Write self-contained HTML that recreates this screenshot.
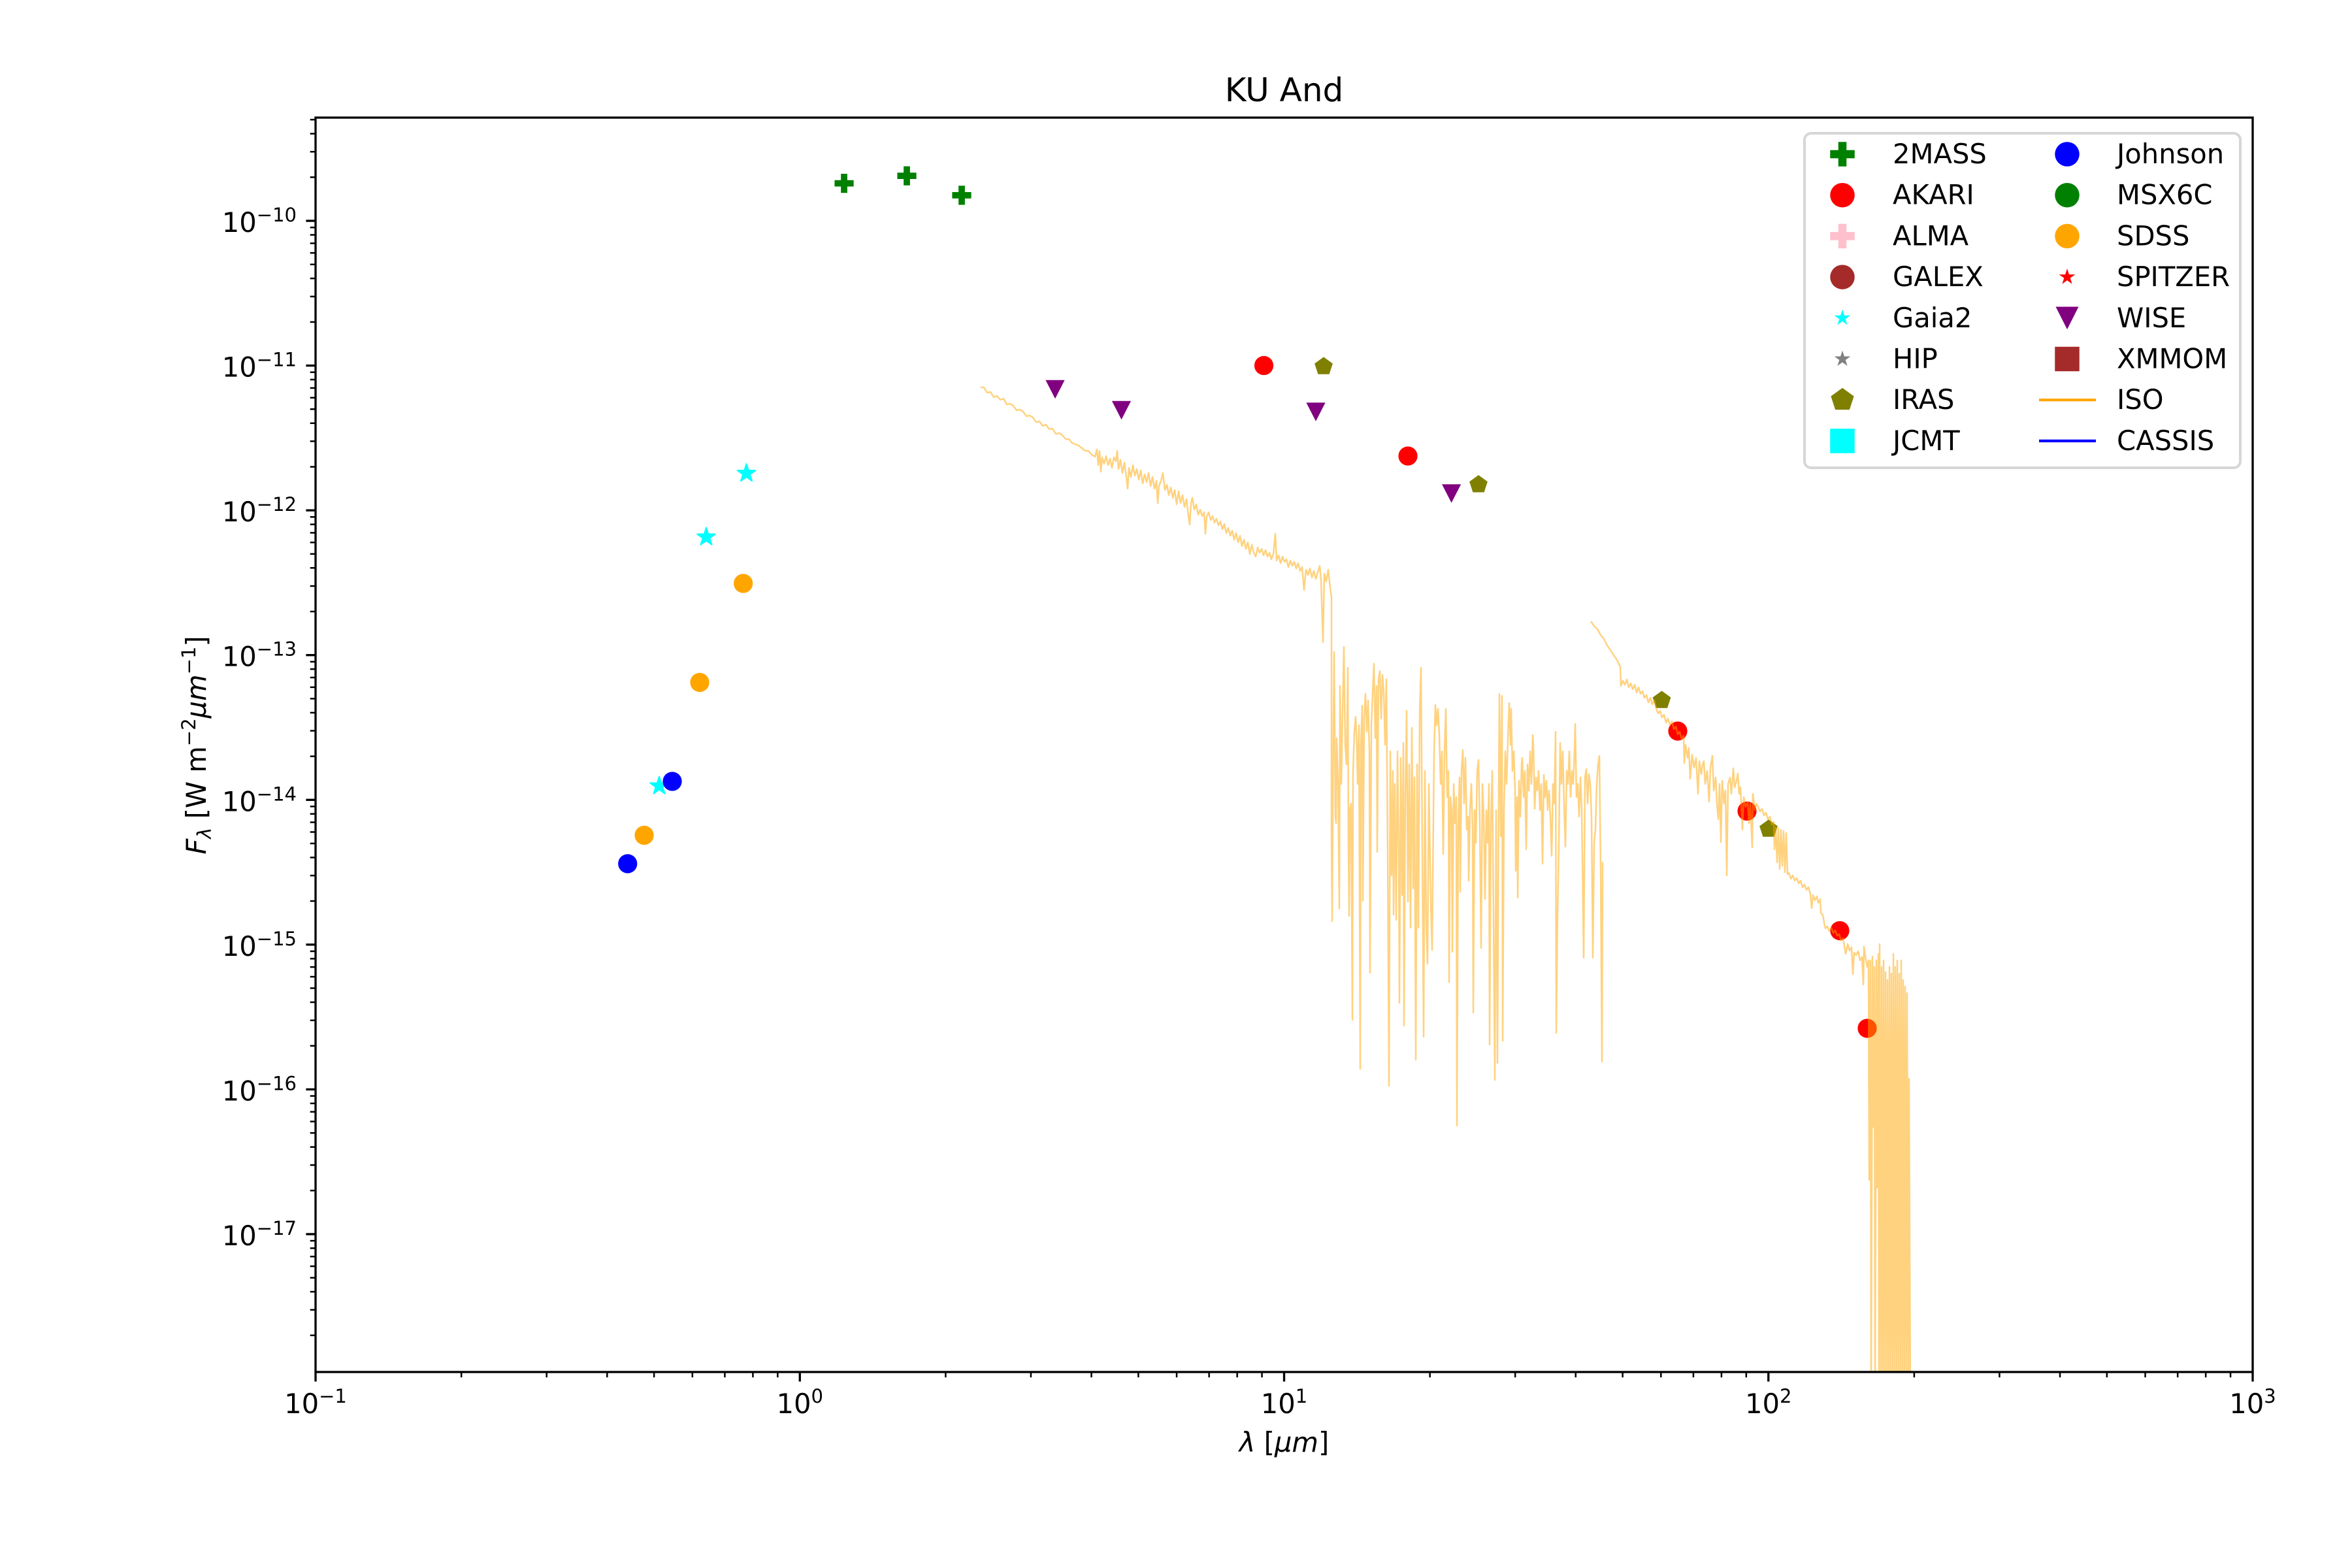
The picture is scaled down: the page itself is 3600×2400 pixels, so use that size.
<!DOCTYPE html>
<html>
<head>
<meta charset="utf-8">
<style>
html,body{margin:0;padding:0;background:#fff;}
svg{display:block;}
text{font-family:"DejaVu Sans","Liberation Sans",sans-serif;fill:#000;white-space:pre;}
</style>
</head>
<body>
<svg width="3600" height="2400" viewBox="0 0 3600 2400" xmlns="http://www.w3.org/2000/svg">
<defs>
  <clipPath id="ax"><rect x="483" y="180" width="2965" height="1920"/></clipPath>
  <polygon id="plusP" points="-4.87,-14.6 4.87,-14.6 4.87,-4.87 14.6,-4.87 14.6,4.87 4.87,4.87 4.87,14.6 -4.87,14.6 -4.87,4.87 -14.6,4.87 -14.6,-4.87 -4.87,-4.87"/>
  <circle id="circP" cx="0" cy="0" r="14.6"/>
  <polygon id="triP" points="0,14.2 -14.6,-14.2 14.6,-14.2"/>
  <polygon id="pentP" points="0,-14.6 13.89,-4.51 8.58,11.81 -8.58,11.81 -13.89,-4.51"/>
  <polygon id="starP" points="0,-14.5 3.26,-4.48 13.79,-4.48 5.27,1.71 8.52,11.73 0,5.54 -8.52,11.73 -5.27,1.71 -13.79,-4.48 -3.26,-4.48"/>
  <polygon id="plusL" points="-6.25,-18.75 6.25,-18.75 6.25,-6.25 18.75,-6.25 18.75,6.25 6.25,6.25 6.25,18.75 -6.25,18.75 -6.25,6.25 -18.75,6.25 -18.75,-6.25 -6.25,-6.25"/>
  <circle id="circL" cx="0" cy="0" r="18.75"/>
  <polygon id="triL" points="0,17.3 -17.5,-17.3 17.5,-17.3"/>
  <polygon id="pentL" points="0,-18.5 17.59,-5.72 10.87,14.97 -10.87,14.97 -17.59,-5.72"/>
  <polygon id="starL" points="0,-13 2.92,-4.02 12.36,-4.02 4.73,1.54 7.64,10.52 0,4.97 -7.64,10.52 -4.73,1.54 -12.36,-4.02 -2.92,-4.02"/>
  <rect id="sqL" x="-18.75" y="-18.75" width="37.5" height="37.5"/>
</defs>

<rect x="0" y="0" width="3600" height="2400" fill="#fff"/>

<!-- Title -->
<text x="1965.5" y="155" font-size="50" text-anchor="middle">KU And</text>

<!-- Data markers -->
<g clip-path="url(#ax)">
  <!-- 2MASS -->
  <g fill="#008000">
    <use href="#plusP" x="1292" y="280.6"/>
    <use href="#plusP" x="1388" y="269.1"/>
    <use href="#plusP" x="1472" y="298.9"/>
  </g>
  <!-- AKARI -->
  <g fill="#ff0000">
    <use href="#circP" x="1934.5" y="559.5"/>
    <use href="#circP" x="2155" y="698"/>
    <use href="#circP" x="2568" y="1119"/>
    <use href="#circP" x="2674" y="1241.5"/>
    <use href="#circP" x="2816" y="1424.5"/>
    <use href="#circP" x="2858" y="1574"/>
  </g>
  <!-- Gaia2 -->
  <g fill="#00ffff" stroke="#00ffff" stroke-width="2" stroke-linejoin="round">
    <use href="#starP" x="1009" y="1203"/>
    <use href="#starP" x="1081" y="822"/>
    <use href="#starP" x="1142.5" y="724.5"/>
  </g>
  <!-- IRAS -->
  <g fill="#808000">
    <use href="#pentP" x="2026" y="561"/>
    <use href="#pentP" x="2263" y="741.7"/>
    <use href="#pentP" x="2543.5" y="1072"/>
    <use href="#pentP" x="2707" y="1269"/>
  </g>
  <!-- Johnson -->
  <g fill="#0000ff">
    <use href="#circP" x="960.7" y="1322"/>
    <use href="#circP" x="1029" y="1196"/>
  </g>
  <!-- SDSS -->
  <g fill="#ffa500">
    <use href="#circP" x="986" y="1278.5"/>
    <use href="#circP" x="1071" y="1044.5"/>
    <use href="#circP" x="1137.6" y="893"/>
  </g>
  <!-- WISE -->
  <g fill="#800080">
    <use href="#triP" x="1615" y="596"/>
    <use href="#triP" x="1716.5" y="628"/>
    <use href="#triP" x="2014" y="630.5"/>
    <use href="#triP" x="2221.6" y="755.4"/>
  </g>

  <!-- ISO spectrum -->
  <g fill="none" stroke="#ffa500" stroke-opacity="0.5" stroke-width="2.5" stroke-linejoin="round">
    <polyline points="1501,593 1506,593 1511,601 1516,600 1521,608 1526,606 1531,612 1536,610 1541,619 1546,618 1551,621 1556,628 1561,627 1566,630 1571,637 1576,636 1581,639 1586,646 1591,645 1596,652 1601,650 1606,657 1611,656 1616,664 1621,663 1626,666 1631,672 1636,672 1641,678 1646,680 1651,682 1656,686 1661,690 1666,690 1671,696 1676,699 1679,688 1681,712 1683,690 1685,722 1687,700 1690,710 1693,698 1696,712 1699,702 1702,716 1705,700 1708,706 1710,690 1712,718 1715,704 1718,724 1721,708 1724,730 1726,748 1728,716 1731,730 1734,712 1737,728 1740,718 1743,734 1746,720 1749,740 1752,726 1755,738 1758,724 1761,744 1764,730 1767,748 1770,736 1772,770 1774,744 1777,736 1780,724 1783,750 1786,742 1789,758 1792,746 1795,762 1798,750 1801,772 1804,752 1807,770 1810,758 1813,776 1816,764 1819,790 1821,803 1823,770 1825,762 1828,780 1831,772 1834,788 1837,780 1840,790 1843,784 1845,817 1847,790 1850,784 1853,796 1856,790 1859,800 1862,794 1865,804 1868,798 1871,810 1874,802 1877,816 1880,808 1883,820 1886,812 1889,826 1892,816 1895,830 1898,820 1901,836 1904,826 1907,840 1910,830 1913,848 1916,834 1919,846 1922,852 1925,838 1928,846 1931,840 1934,850 1937,842 1940,852 1943,846 1946,856 1949,848 1952,817 1954,858 1957,850 1960,862 1963,852 1966,860 1969,856 1972,868 1975,858 1978,866 1981,860 1984,870 1987,862 1990,874 1993,868 1996,903 1999,872 2002,880 2005,870 2008,884 2011,874 2014,886 2017,876 2020,866 2022,888 2025,983 2027,878 2030,890 2033,872 2036,900 2038,915
2038,1270 2039,1410 2041,1100 2042,998 2044,1250 2045,1260 2046,1130 2048,1200 2050,1391 2051,1050 2053,1200 2055,1090 2057,990 2059,1140 2061,1170 2063,1022 2064,1300 2065,1402 2066,1240 2068,1230 2070,1561 2071,1180 2073,1120 2075,1097 2077,1150 2078,1200 2080,1110 2082,1636 2083,1140 2085,1080 2086,1379 2088,1100 2090,1062 2092,1120 2094,1072 2096,1150 2097,1489 2099,1110 2101,1060 2103,1016 2105,1130 2107,1050 2108,1304 2110,1040 2112,1027 2114,1100 2116,1033 2118,1060 2120,1140 2122,1040 2124,1300 2126,1662 2128,1150 2130,1340 2132,1180 2133,1400 2135,1200 2137,1408 2139,1150 2141,1310 2142,1535 2144,1160 2146,1370 2148,1137 2149,1570 2151,1220 2153,1088 2155,1380 2157,1170 2159,1420 2161,1114 2163,1360 2165,1190 2167,1622 2169,1170 2171,1420 2173,1088 2175,1022 2177,1300 2179,1587 2181,1180 2183,1420 2185,1475 2187,1200 2190,1380 2192,1454 2195,1150 2197,1079 2199,1110 2201,1085 2203,1125 2205,1200 2207,1150 2209,1307 2211,1150 2213,1085 2215,1220 2217,1180 2218,1503 2220,1220 2222,1240 2223,1457 2225,1200 2227,1260 2229,1220 2230,1723 2232,1260 2234,1190 2235,1365 2237,1180 2239,1148 2241,1230 2243,1160 2245,1270 2247,1250 2248,1348 2250,1240 2252,1200 2254,1270 2255,1550 2257,1240 2259,1290 2261,1180 2263,1163 2265,1260 2267,1451 2269,1200 2271,1250 2273,1376 2275,1240 2277,1290 2279,1200 2280,1599 2282,1260 2284,1180 2286,1400 2288,1653 2290,1240 2292,1627 2294,1200 2295,1062 2297,1280 2299,1065 2300,1593 2302,1240 2304,1150 2306,1200 2308,1130 2310,1076 2312,1140 2313,1085 2315,1180 2317,1150 2319,1210 2320,1333 2322,1220 2323,1374 2325,1195 2327,1250 2329,1170 2330,1160 2332,1220 2334,1180 2336,1300 2338,1170 2340,1210 2342,1150 2344,1200 2346,1125 2347,1140 2349,1238 2351,1190 2353,1210 2355,1180 2357,1240 2359,1200 2361,1322 2363,1186 2365,1220 2367,1195 2369,1240 2371,1210 2373,1250 2375,1310 2377,1200 2379,1230 2381,1120 2382,1581 2384,1400 2386,1290 2388,1137 2390,1200 2392,1150 2394,1230 2396,1296 2398,1180 2400,1200 2402,1150 2404,1220 2406,1180 2408,1200 2410,1150 2411,1108 2413,1220 2415,1200 2417,1250 2419,1190 2421,1240 2424,1466 2426,1190 2428,1177 2430,1230 2432,1185 2434,1200 2436,1250 2438,1466 2440,1290 2442,1270 2444,1200 2446,1170 2448,1157 2450,1330 2452,1625 2453,1319"/>
    <polyline points="2435,951 2440,958 2445,963 2450,972 2455,978 2460,988 2465,995 2470,1003 2475,1010 2480,1021 2481,1050 2484,1042 2487,1048 2490,1040 2493,1052 2496,1046 2499,1055 2502,1048 2505,1060 2508,1052 2511,1062 2514,1058 2517,1068 2520,1064 2523,1075 2526,1068 2529,1078 2532,1072 2535,1085 2538,1092 2541,1088 2544,1098 2547,1094 2550,1106 2553,1100 2556,1110 2559,1104 2562,1116 2565,1112 2568,1124 2571,1120 2574,1132 2577,1126 2578,1168 2580,1140 2583,1160 2585,1145 2587,1192 2590,1155 2593,1175 2596,1160 2599,1215 2601,1165 2604,1185 2606,1170 2608,1165 2610,1200 2613,1180 2616,1227 2618,1175 2621,1157 2623,1210 2626,1190 2628,1230 2630,1254 2632,1200 2634,1289 2636,1195 2639,1230 2641,1210 2643,1340 2645,1200 2648,1190 2650,1215 2653,1176 2655,1205 2658,1195 2660,1184 2662,1215 2664,1205 2667,1270 2669,1220 2672,1235 2675,1228 2677,1260 2679,1230 2682,1297 2683,1215 2686,1240 2688,1230 2691,1235 2694,1242 2697,1238 2700,1248 2703,1244 2706,1254 2709,1250 2712,1262 2715,1258 2716,1300 2718,1266 2720,1320 2722,1268 2724,1330 2726,1270 2728,1325 2730,1272 2732,1335 2734,1275 2736,1338 2738,1336 2741,1345 2744,1340 2747,1348 2750,1344 2753,1352 2756,1348 2759,1358 2762,1354 2765,1362 2768,1358 2771,1368 2773,1390 2775,1370 2778,1378 2781,1372 2783,1382 2786,1376 2787,1398 2790,1400 2792,1412 2794,1421 2797,1418 2800,1425 2803,1420 2806,1428 2809,1424 2812,1432 2815,1430 2818,1440 2821,1436 2823,1448 2825,1460 2828,1445 2831,1455 2834,1450 2836,1491 2838,1458 2841,1462 2844,1456 2847,1470 2850,1465 2852,1507 2853,1449 2856,1470 2858,1480 2860,1470 2861,1806 2863,1470 2864,2140 2866,1464 2867,1725 2869,1480 2870,2140 2872,1470 2873,1818 2875,1460 2876,2140 2877,1445 2879,2140 2880,1480 2882,2140 2883,1470 2885,2140 2886,1488 2888,2140 2889,1500 2891,2140 2892,1480 2894,2140 2895,1490 2897,2140 2898,1460 2900,2140 2901,1480 2903,2140 2904,1470 2906,2140 2907,1490 2909,2140 2910,1470 2912,2140 2913,1500 2915,2140 2916,1510 2918,2140 2919,1520 2921,2140 2922,1651 2924,2140"/>
  </g>
</g>

<!-- Axes spines -->
<rect x="483" y="180" width="2965" height="1920" fill="none" stroke="#000" stroke-width="3.33" stroke-linejoin="miter"/>

<!-- Y major ticks -->
<g stroke="#000" stroke-width="3.33">
  <line x1="468.4" y1="338" x2="483" y2="338"/>
  <line x1="468.4" y1="559.57" x2="483" y2="559.57"/>
  <line x1="468.4" y1="781.14" x2="483" y2="781.14"/>
  <line x1="468.4" y1="1002.71" x2="483" y2="1002.71"/>
  <line x1="468.4" y1="1224.28" x2="483" y2="1224.28"/>
  <line x1="468.4" y1="1445.85" x2="483" y2="1445.85"/>
  <line x1="468.4" y1="1667.42" x2="483" y2="1667.42"/>
  <line x1="468.4" y1="1888.99" x2="483" y2="1888.99"/>
</g>
<!-- Y minor ticks -->
<g stroke="#000" stroke-width="2.5">
  <path d="M474.7 271.3H483 M474.7 232.28H483 M474.7 204.6H483 M474.7 183.13H483
  M474.7 492.87H483 M474.7 453.85H483 M474.7 426.17H483 M474.7 404.7H483 M474.7 387.16H483 M474.7 372.32H483 M474.7 359.47H483 M474.7 348.14H483
  M474.7 714.44H483 M474.7 675.42H483 M474.7 647.74H483 M474.7 626.27H483 M474.7 608.73H483 M474.7 593.89H483 M474.7 581.04H483 M474.7 569.71H483
  M474.7 936.01H483 M474.7 896.99H483 M474.7 869.31H483 M474.7 847.84H483 M474.7 830.3H483 M474.7 815.46H483 M474.7 802.61H483 M474.7 791.28H483
  M474.7 1157.58H483 M474.7 1118.56H483 M474.7 1090.88H483 M474.7 1069.41H483 M474.7 1051.87H483 M474.7 1037.03H483 M474.7 1024.18H483 M474.7 1012.85H483
  M474.7 1379.15H483 M474.7 1340.13H483 M474.7 1312.45H483 M474.7 1290.98H483 M474.7 1273.44H483 M474.7 1258.6H483 M474.7 1245.75H483 M474.7 1234.42H483
  M474.7 1600.72H483 M474.7 1561.7H483 M474.7 1534.02H483 M474.7 1512.55H483 M474.7 1495.01H483 M474.7 1480.17H483 M474.7 1467.32H483 M474.7 1455.99H483
  M474.7 1822.29H483 M474.7 1783.27H483 M474.7 1755.59H483 M474.7 1734.12H483 M474.7 1716.58H483 M474.7 1701.74H483 M474.7 1688.89H483 M474.7 1677.56H483
  M474.7 2043.86H483 M474.7 2004.84H483 M474.7 1977.16H483 M474.7 1955.69H483 M474.7 1938.15H483 M474.7 1923.31H483 M474.7 1910.46H483 M474.7 1899.13H483"/>
</g>

<!-- X major ticks -->
<g stroke="#000" stroke-width="3.33">
  <line x1="483" y1="2100" x2="483" y2="2114.6"/>
  <line x1="1224.25" y1="2100" x2="1224.25" y2="2114.6"/>
  <line x1="1965.5" y1="2100" x2="1965.5" y2="2114.6"/>
  <line x1="2706.75" y1="2100" x2="2706.75" y2="2114.6"/>
  <line x1="3448" y1="2100" x2="3448" y2="2114.6"/>
</g>
<!-- X minor ticks -->
<g stroke="#000" stroke-width="2.5">
  <path d="M706.14 2100V2108.3 M836.67 2100V2108.3 M929.27 2100V2108.3 M1001.11 2100V2108.3 M1059.79 2100V2108.3 M1109.41 2100V2108.3 M1152.4 2100V2108.3 M1190.3 2100V2108.3
  M1447.39 2100V2108.3 M1577.92 2100V2108.3 M1670.52 2100V2108.3 M1742.36 2100V2108.3 M1801.04 2100V2108.3 M1850.66 2100V2108.3 M1893.65 2100V2108.3 M1931.55 2100V2108.3
  M2188.64 2100V2108.3 M2319.17 2100V2108.3 M2411.77 2100V2108.3 M2483.61 2100V2108.3 M2542.29 2100V2108.3 M2591.91 2100V2108.3 M2634.9 2100V2108.3 M2672.8 2100V2108.3
  M2929.89 2100V2108.3 M3060.42 2100V2108.3 M3153.02 2100V2108.3 M3224.86 2100V2108.3 M3283.54 2100V2108.3 M3333.16 2100V2108.3 M3376.15 2100V2108.3 M3414.05 2100V2108.3"/>
</g>

<!-- Y tick labels -->
<g font-size="41.67" text-anchor="end">
  <text x="454" y="355">10<tspan font-size="29" dy="-16">−10</tspan></text>
  <text x="454" y="576.6">10<tspan font-size="29" dy="-16">−11</tspan></text>
  <text x="454" y="798.1">10<tspan font-size="29" dy="-16">−12</tspan></text>
  <text x="454" y="1019.7">10<tspan font-size="29" dy="-16">−13</tspan></text>
  <text x="454" y="1241.3">10<tspan font-size="29" dy="-16">−14</tspan></text>
  <text x="454" y="1462.9">10<tspan font-size="29" dy="-16">−15</tspan></text>
  <text x="454" y="1684.4">10<tspan font-size="29" dy="-16">−16</tspan></text>
  <text x="454" y="1906">10<tspan font-size="29" dy="-16">−17</tspan></text>
</g>

<!-- X tick labels -->
<g font-size="41.67" text-anchor="middle">
  <text x="483" y="2163">10<tspan font-size="29" dy="-16">−1</tspan></text>
  <text x="1224.25" y="2163">10<tspan font-size="29" dy="-16">0</tspan></text>
  <text x="1965.5" y="2163">10<tspan font-size="29" dy="-16">1</tspan></text>
  <text x="2706.75" y="2163">10<tspan font-size="29" dy="-16">2</tspan></text>
  <text x="3448" y="2163">10<tspan font-size="29" dy="-16">3</tspan></text>
</g>

<!-- Axis labels -->
<text x="1965.5" y="2222" font-size="41.67" text-anchor="middle"><tspan font-style="italic">λ</tspan> [<tspan font-style="italic">μm</tspan>]</text>
<text transform="translate(315,1140.5) rotate(-90)" font-size="41.67" text-anchor="middle"><tspan font-style="italic">F</tspan><tspan font-size="29" font-style="italic" dy="8">λ</tspan><tspan dy="-8"> [W m</tspan><tspan font-size="29" dy="-16">−2</tspan><tspan font-style="italic" dy="16">μm</tspan><tspan font-size="29" dy="-16">−1</tspan><tspan dy="16">]</tspan></text>

<!-- Legend -->
<rect x="2762" y="204" width="667" height="512" rx="10" ry="10" fill="#fff" fill-opacity="0.8" stroke="#d6d6d6" stroke-width="4"/>
<g>
  <use href="#plusL" x="2820" y="236" fill="#008000"/>
  <use href="#circL" x="2820" y="298.7" fill="#ff0000"/>
  <use href="#plusL" x="2820" y="361.4" fill="#ffc0cb"/>
  <use href="#circL" x="2820" y="424.1" fill="#a52a2a"/>
  <use href="#starL" x="2820" y="486.8" fill="#00ffff"/>
  <use href="#starL" x="2820" y="549.5" fill="#808080"/>
  <use href="#pentL" x="2820" y="612.2" fill="#808000"/>
  <use href="#sqL" x="2820" y="674.9" fill="#00ffff"/>

  <use href="#circL" x="3164" y="236" fill="#0000ff"/>
  <use href="#circL" x="3164" y="298.7" fill="#008000"/>
  <use href="#circL" x="3164" y="361.4" fill="#ffa500"/>
  <use href="#starL" x="3164" y="424.1" fill="#ff0000"/>
  <use href="#triL" x="3164" y="486.8" fill="#800080"/>
  <use href="#sqL" x="3164" y="549.5" fill="#a52a2a"/>
  <line x1="3121" y1="612.2" x2="3208" y2="612.2" stroke="#ffa500" stroke-width="4.2"/>
  <line x1="3121" y1="674.9" x2="3208" y2="674.9" stroke="#0000ff" stroke-width="4.2"/>
</g>
<g font-size="41.67">
  <text x="2897" y="250">2MASS</text>
  <text x="2897" y="312.7">AKARI</text>
  <text x="2897" y="375.4">ALMA</text>
  <text x="2897" y="438.1">GALEX</text>
  <text x="2897" y="500.8">Gaia2</text>
  <text x="2897" y="563.5">HIP</text>
  <text x="2897" y="626.2">IRAS</text>
  <text x="2897" y="688.9">JCMT</text>
  <text x="3240" y="250">Johnson</text>
  <text x="3240" y="312.7">MSX6C</text>
  <text x="3240" y="375.4">SDSS</text>
  <text x="3240" y="438.1">SPITZER</text>
  <text x="3240" y="500.8">WISE</text>
  <text x="3240" y="563.5">XMMOM</text>
  <text x="3240" y="626.2">ISO</text>
  <text x="3240" y="688.9">CASSIS</text>
</g>
</svg>
</body>
</html>
